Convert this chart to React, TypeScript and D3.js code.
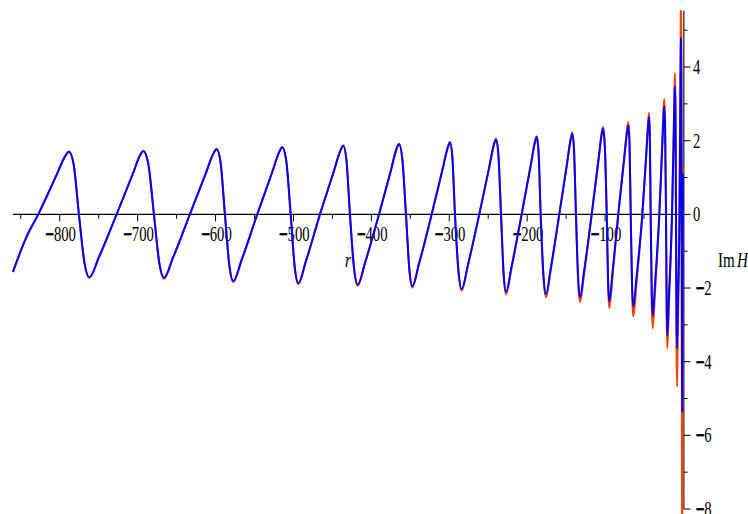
import React from "react";
import * as d3 from "d3";

// r positions of read-off key points (troughs, rising points, zero crossings, peaks, falling points)
const rVals: number[] = [
  -860.1, -842.7, -827.6, -804.0, -792.9, -788.2, -782.2, -775.4, -768.1, -762.1,
  -749.8, -727.0, -706.5, -696.9, -692.8, -686.4, -679.1, -672.0, -666.2,
  -654.6, -633.0, -612.4, -602.7, -598.6, -593.6, -588.0, -582.1, -577.3,
  -566.5, -546.5, -527.2, -518.3, -514.4, -509.3, -503.6, -498.2, -493.8,
  -484.1, -466.0, -448.1, -439.7, -436.1, -432.1, -427.5, -422.1, -417.6,
  -408.0, -390.2, -374.8, -367.7, -364.6, -360.4, -355.6, -351.1, -347.5,
  -338.8, -322.6, -308.5, -301.9, -299.1, -296.1, -292.7, -288.0, -284.1,
  -276.2, -261.5, -248.7, -242.7, -240.1, -237.0, -233.6, -230.1, -227.2,
  -220.2, -207.1, -195.5, -190.1, -187.8, -185.4, -182.7, -179.0, -175.9,
  -169.9, -158.8, -148.8, -144.1, -142.1, -139.9, -137.4, -134.5, -132.2,
  -126.9, -117.2, -108.5, -104.4, -102.7, -100.4, -97.9, -96.1, -94.6,
  -90.6, -83.1, -75.4, -71.7, -70.2, -68.7, -67.1, -65.3, -63.8,
  -59.7, -52.2, -47.0, -44.6, -43.6, -42.6, -41.5, -40.1, -38.9,
  -35.9, -30.4, -26.6, -24.8, -24.0, -23.0, -21.8, -20.9, -20.2,
  -18.1, -14.1, -11.8, -10.8, -10.3, -9.7, -9.0, -8.3, -7.7,
  -6.6, -4.5, -3.4, -2.8, -2.6, -2.2, -1.7, -1.3, -0.9,
  -0.1,
];

// Im H, blue curve
const blueVals: number[] = [
  -1.56, -0.61, 0, 1.07, 1.58, 1.70, 1.36, 0, -1.33, -1.71,
  -1.16, 0, 1.08, 1.60, 1.72, 1.38, 0, -1.34, -1.72,
  -1.17, 0, 1.12, 1.65, 1.77, 1.42, 0, -1.41, -1.81,
  -1.23, 0, 1.15, 1.69, 1.82, 1.46, 0, -1.46, -1.87,
  -1.27, 0, 1.17, 1.73, 1.86, 1.49, 0, -1.49, -1.91,
  -1.30, 0, 1.20, 1.78, 1.91, 1.53, 0, -1.52, -1.95,
  -1.33, 0, 1.23, 1.81, 1.95, 1.56, 0, -1.58, -2.03,
  -1.38, 0, 1.28, 1.89, 2.03, 1.62, 0, -1.65, -2.11,
  -1.43, 0, 1.32, 1.95, 2.10, 1.68, 0, -1.69, -2.17,
  -1.48, 0, 1.38, 2.04, 2.19, 1.75, 0, -1.76, -2.25,
  -1.53, 0, 1.47, 2.17, 2.33, 1.86, 0, -1.84, -2.36,
  -1.60, 0, 1.52, 2.25, 2.42, 1.94, 0, -1.96, -2.51,
  -1.71, 0, 1.67, 2.46, 2.65, 2.12, 0, -2.15, -2.76,
  -1.88, 0, 1.85, 2.73, 2.94, 2.35, 0, -2.57, -3.29,
  -2.24, 0, 2.19, 3.24, 3.48, 2.78, 0, -2.84, -3.64,
  -2.48, 0, 3.01, 4.45, 4.78, 3.82, 0, -4.18, -5.36,
  1.1,
];

// Im H, orange curve
const orangeVals: number[] = [
  -1.57, -0.62, 0, 1.08, 1.59, 1.71, 1.37, 0, -1.35, -1.73,
  -1.18, 0, 1.09, 1.61, 1.73, 1.38, 0, -1.37, -1.75,
  -1.19, 0, 1.12, 1.66, 1.78, 1.42, 0, -1.44, -1.84,
  -1.25, 0, 1.15, 1.70, 1.83, 1.46, 0, -1.48, -1.90,
  -1.29, 0, 1.18, 1.74, 1.87, 1.50, 0, -1.51, -1.94,
  -1.32, 0, 1.21, 1.79, 1.92, 1.54, 0, -1.55, -1.99,
  -1.35, 0, 1.24, 1.83, 1.97, 1.58, 0, -1.61, -2.07,
  -1.41, 0, 1.29, 1.90, 2.05, 1.64, 0, -1.69, -2.17,
  -1.48, 0, 1.34, 1.97, 2.12, 1.70, 0, -1.76, -2.25,
  -1.53, 0, 1.40, 2.06, 2.22, 1.78, 0, -1.86, -2.38,
  -1.62, 0, 1.49, 2.20, 2.37, 1.90, 0, -1.99, -2.55,
  -1.73, 0, 1.58, 2.33, 2.51, 2.01, 0, -2.17, -2.78,
  -1.89, 0, 1.73, 2.56, 2.75, 2.20, 0, -2.42, -3.10,
  -2.11, 0, 1.97, 2.91, 3.13, 2.50, 0, -2.84, -3.64,
  -2.48, 0, 2.41, 3.56, 3.83, 3.06, 0, -3.65, -4.68,
  -3.18, 0, 3.78, 5.58, 6.0, 4.80, 0, -7.41, -9.5,
  1.3,
];

const xMajorTicks: number[] = [-800, -700, -600, -500, -400, -300, -200, -100];
const xMinorTicks: number[] = [-850, -750, -650, -550, -450, -350, -250, -150, -50];
const yMajorTicks: number[] = [-8, -6, -4, -2, 0, 2, 4];
const yMinorTicks: number[] = [-7, -5, -3, -1, 1, 3, 5];

const W = 748;
const H = 514;
const FONT = "'Liberation Serif', 'Times New Roman', serif";

export default function App() {
  const x = d3.scaleLinear().domain([-860, 0]).range([13, 683]);
  const y = d3.scaleLinear().domain([-8, 5.5]).range([509, 11.8]);

  const blueData = rVals.map((r, i) => [r, blueVals[i]] as [number, number]);
  const orangeData = rVals.map((r, i) => [r, orangeVals[i]] as [number, number]);

  const line = d3
    .line<[number, number]>()
    .x((d) => x(d[0]))
    .y((d) => y(d[1]))
    .curve(d3.curveMonotoneX);

  const x0 = x(0);
  const y0 = y(0);

  const label = (v: number) => (v < 0 ? "\u2212" + Math.abs(v) : String(v));

  return (
    <svg
      width={W}
      height={H}
      style={{ position: "absolute", left: 0, top: 0, background: "#fff" }}
    >
      <defs>
        <clipPath id="plotclip">
          <rect x={0} y={y(5.5) - 1.5} width={W} height={H} />
        </clipPath>
      </defs>

      {/* x axis */}
      <line x1={x(-860)} x2={x0} y1={y0} y2={y0} stroke="#000" strokeWidth={1.3} />
      {xMajorTicks.map((t) => (
        <line key={"xM" + t} x1={x(t)} x2={x(t)} y1={y0} y2={y0 + 7} stroke="#000" strokeWidth={1} />
      ))}
      {xMinorTicks.map((t) => (
        <line key={"xm" + t} x1={x(t)} x2={x(t)} y1={y0} y2={y0 + 4.5} stroke="#000" strokeWidth={1} />
      ))}
      {xMajorTicks.map((t) => (
        <text
          key={"xl" + t}
          transform={`translate(${x(t) + 1},${y0 + 27}) scale(0.7,1)`}
          textAnchor="middle"
          fontFamily={FONT}
          fontSize={21}
          fill="#000"
        >
          <tspan stroke="#000" strokeWidth={1.2}>{"\u2212"}</tspan>
          {String(Math.abs(t))}
        </text>
      ))}

      {/* y axis */}
      <line x1={x0 + 0.8} x2={x0 + 0.8} y1={y(5.5) - 1} y2={y(-8)} stroke="#444" strokeWidth={1.5} />
      {yMajorTicks.map((t) => (
        <line key={"yM" + t} x1={x0 + 0.8} x2={x0 + 7.5} y1={y(t)} y2={y(t)} stroke="#000" strokeWidth={1} />
      ))}
      {yMinorTicks.map((t) => (
        <line key={"ym" + t} x1={x0 + 0.8} x2={x0 + 4.5} y1={y(t)} y2={y(t)} stroke="#000" strokeWidth={1} />
      ))}
      {yMajorTicks.map((t) => (
        <text
          key={"yl" + t}
          transform={`translate(${t < 0 ? x0 + 13 : x0 + 10},${y(t) + 7}) scale(0.7,1)`}
          textAnchor="start"
          fontFamily={FONT}
          fontSize={21}
          fill="#000"
        >
          {t < 0 ? <tspan stroke="#000" strokeWidth={1.2}>{"\u2212"}</tspan> : null}
          {String(Math.abs(t))}
        </text>
      ))}

      {/* axis titles */}
      <text
        transform={`translate(${x(-430)},${y0 + 53}) scale(0.75,1)`}
        fontFamily={FONT}
        fontStyle="italic"
        fontSize={21}
        textAnchor="middle"
        fill="#000"
      >
        r
      </text>
      <text
        transform={`translate(718,${y0 + 53}) scale(0.72,1)`}
        fontFamily={FONT}
        fontSize={21}
        textAnchor="start"
        fill="#000"
      >
        Im
        <tspan fontStyle="italic" dx={3}>H</tspan>
      </text>

      {/* curves */}
      <g clipPath="url(#plotclip)">
        <path d={line(orangeData) || ""} fill="none" stroke="#ff4500" strokeWidth={2} strokeLinejoin="round" />
        <path d={line(blueData) || ""} fill="none" stroke="#0000ff" strokeWidth={2} strokeLinejoin="round" />
      </g>
    </svg>
  );
}
